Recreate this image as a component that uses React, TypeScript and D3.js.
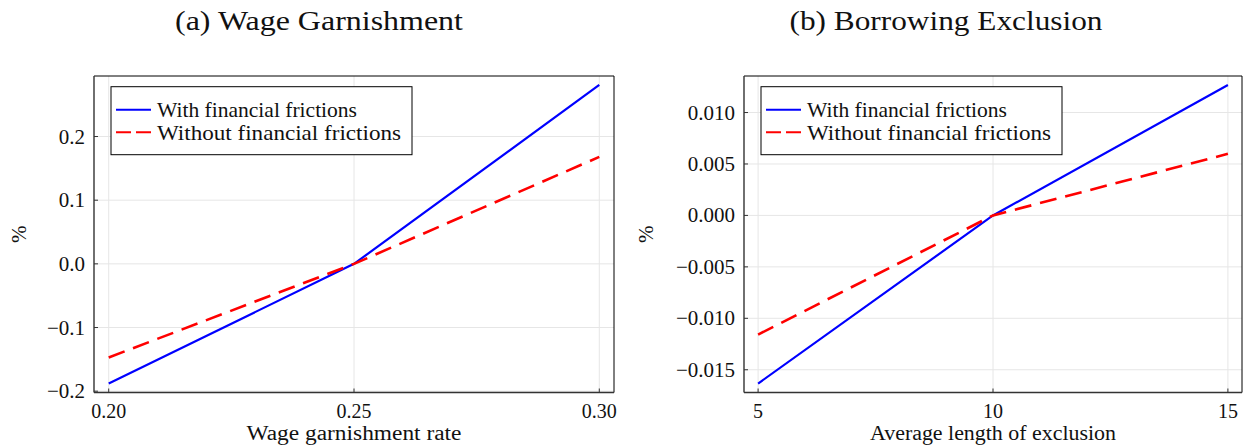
import React from "react";
import * as d3 from "d3";

// panel (a): wage garnishment
const wageRate = [0.2, 0.25, 0.3];
const wageWith = [-0.188, 0, 0.281];
const wageWithout = [-0.147, 0, 0.168];
const wageXTicks = [0.2, 0.25, 0.3];
const wageYTicks = [-0.2, -0.1, 0, 0.1, 0.2];

// panel (b): borrowing exclusion
const exclYears = [5, 10, 15];
const exclWith = [-0.01634, 0, 0.01268];
const exclWithout = [-0.01158, 0, 0.00599];
const exclXTicks = [5, 10, 15];
const exclYTicks = [-0.015, -0.01, -0.005, 0, 0.005, 0.01];

const seriesNames = ["With financial frictions", "Without financial frictions"];

const FONT = "Liberation Serif, serif";

const fmtMinus = (s: string) => s.replace("-", "\u2212");

// pad an extent by 3% on each side, like Plots.jl does
const padded = (vals: number[]) => {
  const [lo, hi] = d3.extent(vals) as [number, number];
  const p = (hi - lo) * 0.03;
  return [lo - p, hi + p];
};

type PanelProps = {
  title: string;
  titleX: number;
  titleLen: number;
  xLabel: string;
  xLabelLen: number;
  left: number;
  right: number;
  x: number[];
  yWith: number[];
  yWithout: number[];
  xTicks: number[];
  yTicks: number[];
  xFmt: (d: number) => string;
  yFmt: (d: number) => string;
  pctX: number;
};

function Panel(props: PanelProps) {
  const top = 76;
  const bottom = 392.5;
  const { left, right } = props;

  const xScale = d3.scaleLinear().domain(padded(props.x)).range([left, right]);
  const yScale = d3
    .scaleLinear()
    .domain(padded([...props.yWith, ...props.yWithout]))
    .range([bottom, top]);

  const line = d3
    .line<number>()
    .x((d, i) => xScale(props.x[i]))
    .y(d => yScale(d));

  const lx = left + 17;
  const ly = top + 10.7;

  return (
    <g>
      <text
        x={props.titleX}
        y={30}
        fontFamily={FONT}
        fontSize={27}
        textAnchor="middle"
        textLength={props.titleLen}
        lengthAdjust="spacingAndGlyphs"
        fill="#111"
      >
        {props.title}
      </text>

      {/* grid */}
      {props.xTicks.map(t => (
        <line key={"gx" + t} x1={xScale(t)} x2={xScale(t)} y1={top} y2={bottom} stroke="#e6e6e6" strokeWidth={1} />
      ))}
      {props.yTicks.map(t => (
        <line key={"gy" + t} x1={left} x2={right} y1={yScale(t)} y2={yScale(t)} stroke="#e6e6e6" strokeWidth={1} />
      ))}

      {/* frame */}
      <line x1={left} x2={right} y1={top} y2={top} stroke="#000" strokeWidth={1} />
      <line x1={right} x2={right} y1={top} y2={bottom} stroke="#000" strokeWidth={1} />
      <line x1={left} x2={left} y1={top} y2={bottom} stroke="#333" strokeWidth={1.4} />
      <line x1={left} x2={right} y1={bottom} y2={bottom} stroke="#333" strokeWidth={1.4} />

      {/* ticks */}
      {props.xTicks.map(t => (
        <g key={"tx" + t}>
          <line x1={xScale(t)} x2={xScale(t)} y1={bottom} y2={bottom - 4} stroke="#333" strokeWidth={1} />
          <text x={xScale(t)} y={bottom + 25} fontFamily={FONT} fontSize={20} textAnchor="middle" fill="#111">
            {props.xFmt(t)}
          </text>
        </g>
      ))}
      {props.yTicks.map(t => (
        <g key={"ty" + t}>
          <line x1={left} x2={left + 4} y1={yScale(t)} y2={yScale(t)} stroke="#333" strokeWidth={1} />
          <text x={left - 9} y={yScale(t) + 7} fontFamily={FONT} fontSize={21} textAnchor="end" fill="#111">
            {props.yFmt(t)}
          </text>
        </g>
      ))}

      {/* series */}
      <path d={line(props.yWith) || ""} fill="none" stroke="#0000ff" strokeWidth={2.2} />
      <path
        d={line(props.yWithout) || ""}
        fill="none"
        stroke="#ff0000"
        strokeWidth={2.6}
        strokeDasharray="17 9"
      />

      {/* axis labels */}
      <text
        x={(xScale(props.x[0]) + xScale(props.x[props.x.length - 1])) / 2}
        y={440}
        fontFamily={FONT}
        fontSize={20}
        textAnchor="middle"
        textLength={props.xLabelLen}
        lengthAdjust="spacingAndGlyphs"
        fill="#111"
      >
        {props.xLabel}
      </text>
      <text
        transform={`translate(${props.pctX},${(top + bottom) / 2})  rotate(-90)`}
        fontFamily={FONT}
        fontSize={21}
        textAnchor="middle"
        fill="#111"
      >
        %
      </text>

      {/* legend */}
      <rect x={lx} y={ly} width={301} height={68} fill="#fff" stroke="#000" strokeWidth={1} />
      <line x1={lx + 5} x2={lx + 40} y1={ly + 23} y2={ly + 23} stroke="#0000ff" strokeWidth={2} />
      <line
        x1={lx + 5}
        x2={lx + 40}
        y1={ly + 45.5}
        y2={ly + 45.5}
        stroke="#ff0000"
        strokeWidth={2}
        strokeDasharray="15 5"
      />
      <text x={lx + 46} y={ly + 30.5} fontFamily={FONT} fontSize={21} textLength={200} lengthAdjust="spacingAndGlyphs" fill="#111">
        {seriesNames[0]}
      </text>
      <text x={lx + 46} y={ly + 53} fontFamily={FONT} fontSize={21} textLength={244} lengthAdjust="spacingAndGlyphs" fill="#111">
        {seriesNames[1]}
      </text>
    </g>
  );
}

export default function App() {
  return (
    <svg
      width={1244}
      height={446}
      style={{ position: "absolute", left: 0, top: 0, background: "#fff" }}
    >
      <Panel
        title="(a) Wage Garnishment"
        titleX={319}
        titleLen={288}
        xLabel="Wage garnishment rate"
        xLabelLen={215}
        left={94}
        right={614}
        x={wageRate}
        yWith={wageWith}
        yWithout={wageWithout}
        xTicks={wageXTicks}
        yTicks={wageYTicks}
        xFmt={d => d3.format(".2f")(d)}
        yFmt={d => fmtMinus(d3.format(".1f")(d))}
        pctX={26}
      />
      <Panel
        title="(b) Borrowing Exclusion"
        titleX={946}
        titleLen={313}
        xLabel="Average length of exclusion"
        xLabelLen={246}
        left={744}
        right={1242}
        x={exclYears}
        yWith={exclWith}
        yWithout={exclWithout}
        xTicks={exclXTicks}
        yTicks={exclYTicks}
        xFmt={d => d3.format("d")(d)}
        yFmt={d => fmtMinus(d3.format(".3f")(d))}
        pctX={653}
      />
    </svg>
  );
}
